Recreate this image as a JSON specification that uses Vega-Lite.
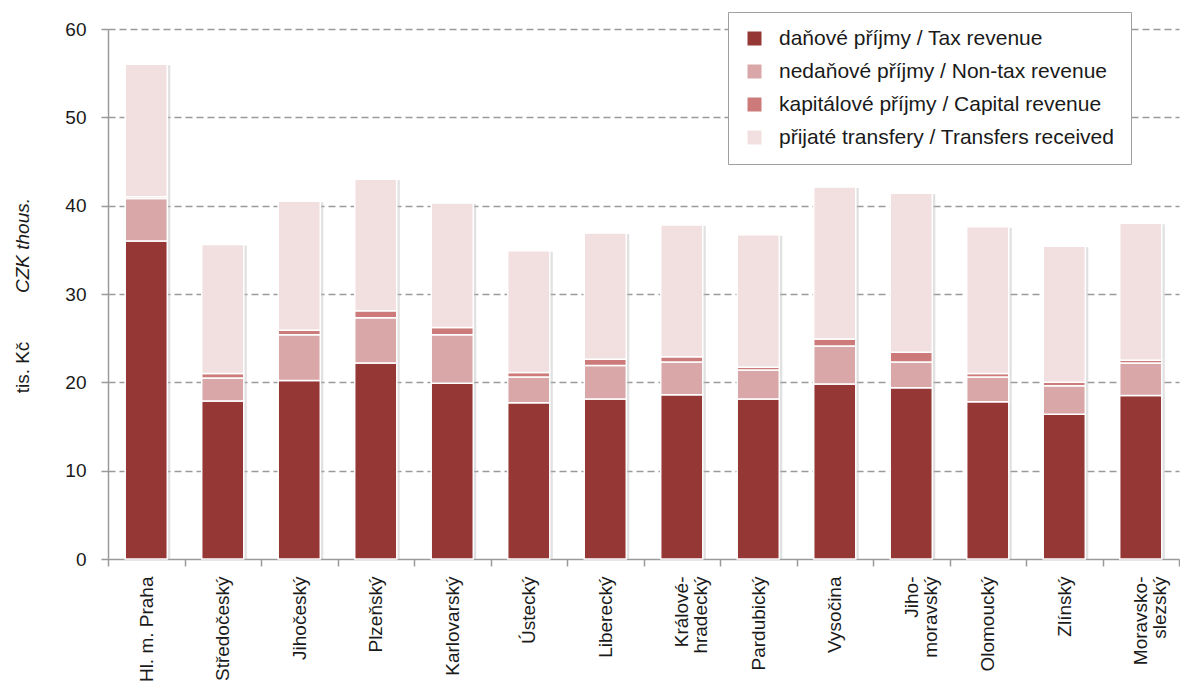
{
  "$schema": "https://vega.github.io/schema/vega-lite/v6.json",
  "autosize": {"type": "none"},
  "padding": {"left": 108, "top": 29, "right": 1, "bottom": 136},
  "width": 1071,
  "height": 530,
  "background": "white",
  "config": {
    "font": "Liberation Sans",
    "view": {"stroke": null},
    "axis": {"labelFont": "Liberation Sans", "titleFont": "Liberation Sans", "labelColor": "#1a1a1a", "titleColor": "#1a1a1a"}
  },
  "data": {
    "values": [
      {"r": "Hl. m. Praha", "t": "daňové příjmy / Tax revenue", "o": 1, "v": 36.0},
      {"r": "Hl. m. Praha", "t": "nedaňové příjmy / Non-tax revenue", "o": 2, "v": 4.8},
      {"r": "Hl. m. Praha", "t": "kapitálové příjmy / Capital revenue", "o": 3, "v": 0.2},
      {"r": "Hl. m. Praha", "t": "přijaté transfery / Transfers received", "o": 4, "v": 15.0},
      {"r": "Středočeský", "t": "daňové příjmy / Tax revenue", "o": 1, "v": 17.9},
      {"r": "Středočeský", "t": "nedaňové příjmy / Non-tax revenue", "o": 2, "v": 2.6},
      {"r": "Středočeský", "t": "kapitálové příjmy / Capital revenue", "o": 3, "v": 0.5},
      {"r": "Středočeský", "t": "přijaté transfery / Transfers received", "o": 4, "v": 14.6},
      {"r": "Jihočeský", "t": "daňové příjmy / Tax revenue", "o": 1, "v": 20.2},
      {"r": "Jihočeský", "t": "nedaňové příjmy / Non-tax revenue", "o": 2, "v": 5.2},
      {"r": "Jihočeský", "t": "kapitálové příjmy / Capital revenue", "o": 3, "v": 0.5},
      {"r": "Jihočeský", "t": "přijaté transfery / Transfers received", "o": 4, "v": 14.6},
      {"r": "Plzeňský", "t": "daňové příjmy / Tax revenue", "o": 1, "v": 22.2},
      {"r": "Plzeňský", "t": "nedaňové příjmy / Non-tax revenue", "o": 2, "v": 5.1},
      {"r": "Plzeňský", "t": "kapitálové příjmy / Capital revenue", "o": 3, "v": 0.8},
      {"r": "Plzeňský", "t": "přijaté transfery / Transfers received", "o": 4, "v": 14.9},
      {"r": "Karlovarský", "t": "daňové příjmy / Tax revenue", "o": 1, "v": 19.9},
      {"r": "Karlovarský", "t": "nedaňové příjmy / Non-tax revenue", "o": 2, "v": 5.5},
      {"r": "Karlovarský", "t": "kapitálové příjmy / Capital revenue", "o": 3, "v": 0.8},
      {"r": "Karlovarský", "t": "přijaté transfery / Transfers received", "o": 4, "v": 14.1},
      {"r": "Ústecký", "t": "daňové příjmy / Tax revenue", "o": 1, "v": 17.7},
      {"r": "Ústecký", "t": "nedaňové příjmy / Non-tax revenue", "o": 2, "v": 2.9},
      {"r": "Ústecký", "t": "kapitálové příjmy / Capital revenue", "o": 3, "v": 0.5},
      {"r": "Ústecký", "t": "přijaté transfery / Transfers received", "o": 4, "v": 13.8},
      {"r": "Liberecký", "t": "daňové příjmy / Tax revenue", "o": 1, "v": 18.1},
      {"r": "Liberecký", "t": "nedaňové příjmy / Non-tax revenue", "o": 2, "v": 3.8},
      {"r": "Liberecký", "t": "kapitálové příjmy / Capital revenue", "o": 3, "v": 0.7},
      {"r": "Liberecký", "t": "přijaté transfery / Transfers received", "o": 4, "v": 14.3},
      {"r": "Králové-|hradecký", "t": "daňové příjmy / Tax revenue", "o": 1, "v": 18.6},
      {"r": "Králové-|hradecký", "t": "nedaňové příjmy / Non-tax revenue", "o": 2, "v": 3.7},
      {"r": "Králové-|hradecký", "t": "kapitálové příjmy / Capital revenue", "o": 3, "v": 0.6},
      {"r": "Králové-|hradecký", "t": "přijaté transfery / Transfers received", "o": 4, "v": 14.9},
      {"r": "Pardubický", "t": "daňové příjmy / Tax revenue", "o": 1, "v": 18.1},
      {"r": "Pardubický", "t": "nedaňové příjmy / Non-tax revenue", "o": 2, "v": 3.3},
      {"r": "Pardubický", "t": "kapitálové příjmy / Capital revenue", "o": 3, "v": 0.3},
      {"r": "Pardubický", "t": "přijaté transfery / Transfers received", "o": 4, "v": 15.0},
      {"r": "Vysočina", "t": "daňové příjmy / Tax revenue", "o": 1, "v": 19.8},
      {"r": "Vysočina", "t": "nedaňové příjmy / Non-tax revenue", "o": 2, "v": 4.3},
      {"r": "Vysočina", "t": "kapitálové příjmy / Capital revenue", "o": 3, "v": 0.8},
      {"r": "Vysočina", "t": "přijaté transfery / Transfers received", "o": 4, "v": 17.2},
      {"r": "Jiho-|moravský", "t": "daňové příjmy / Tax revenue", "o": 1, "v": 19.4},
      {"r": "Jiho-|moravský", "t": "nedaňové příjmy / Non-tax revenue", "o": 2, "v": 2.9},
      {"r": "Jiho-|moravský", "t": "kapitálové příjmy / Capital revenue", "o": 3, "v": 1.1},
      {"r": "Jiho-|moravský", "t": "přijaté transfery / Transfers received", "o": 4, "v": 18.0},
      {"r": "Olomoucký", "t": "daňové příjmy / Tax revenue", "o": 1, "v": 17.8},
      {"r": "Olomoucký", "t": "nedaňové příjmy / Non-tax revenue", "o": 2, "v": 2.8},
      {"r": "Olomoucký", "t": "kapitálové příjmy / Capital revenue", "o": 3, "v": 0.4},
      {"r": "Olomoucký", "t": "přijaté transfery / Transfers received", "o": 4, "v": 16.6},
      {"r": "Zlínský", "t": "daňové příjmy / Tax revenue", "o": 1, "v": 16.4},
      {"r": "Zlínský", "t": "nedaňové příjmy / Non-tax revenue", "o": 2, "v": 3.2},
      {"r": "Zlínský", "t": "kapitálové příjmy / Capital revenue", "o": 3, "v": 0.4},
      {"r": "Zlínský", "t": "přijaté transfery / Transfers received", "o": 4, "v": 15.4},
      {"r": "Moravsko-|slezský", "t": "daňové příjmy / Tax revenue", "o": 1, "v": 18.5},
      {"r": "Moravsko-|slezský", "t": "nedaňové příjmy / Non-tax revenue", "o": 2, "v": 3.7},
      {"r": "Moravsko-|slezský", "t": "kapitálové příjmy / Capital revenue", "o": 3, "v": 0.3},
      {"r": "Moravsko-|slezský", "t": "přijaté transfery / Transfers received", "o": 4, "v": 15.5}
    ]
  },
  "encoding": {
    "x": {
      "field": "r", "type": "nominal",
      "sort": ["Hl. m. Praha", "Středočeský", "Jihočeský", "Plzeňský", "Karlovarský", "Ústecký", "Liberecký", "Králové-|hradecký", "Pardubický", "Vysočina", "Jiho-|moravský", "Olomoucký", "Zlínský", "Moravsko-|slezský"],
      "scale": {"paddingInner": 0, "paddingOuter": 0},
      "axis": {
        "title": null,
        "labelAngle": -90,
        "labelAlign": "right",
        "labelBaseline": "middle",
        "labelFontSize": 19,
        "labelLineHeight": 19,
        "labelPadding": 10,
        "labelExpr": "split(datum.label, '|')",
        "tickBand": "extent",
        "tickSize": 7,
        "tickColor": "#9a9a9a",
        "tickWidth": 1.5,
        "domainColor": "#9a9a9a",
        "domainWidth": 1.5,
        "grid": false
      }
    }
  },
  "layer": [
    {
      "mark": {"type": "bar", "width": {"band": 0.55}, "color": "#bcbcbc", "opacity": 0.45, "xOffset": 3, "yOffset": 1},
      "encoding": {
        "y": {
          "aggregate": "sum", "field": "v", "type": "quantitative",
          "scale": {"domain": [0, 60], "nice": false},
          "axis": null
        }
      }
    },
    {
      "mark": {"type": "bar", "width": {"band": 0.55}, "stroke": "white", "strokeWidth": 1.5},
      "encoding": {
        "y": {
          "field": "v", "type": "quantitative", "stack": "zero",
          "scale": {"domain": [0, 60], "nice": false},
          "axis": {
            "values": [0, 10, 20, 30, 40, 50, 60],
            "title": "tis. Kč",
            "titleFontSize": 19,
            "titleFontWeight": "normal",
            "titleAngle": -90,
            "titleAlign": "center",
            "titleBaseline": "middle",
            "titleX": -86,
            "titleY": 338,
            "labelFontSize": 19,
            "labelPadding": 15,
            "tickSize": 7,
            "tickColor": "#9a9a9a",
            "tickWidth": 1.5,
            "domainColor": "#9a9a9a",
            "domainWidth": 1.5,
            "grid": true,
            "gridColor": "#9a9a9a",
            "gridWidth": 1.5,
            "gridDash": [7, 4],
            "gridOpacity": {"condition": {"test": "datum.value === 0", "value": 0}, "value": 1}
          }
        },
        "color": {
          "field": "t", "type": "nominal",
          "scale": {
            "domain": ["daňové příjmy / Tax revenue", "nedaňové příjmy / Non-tax revenue", "kapitálové příjmy / Capital revenue", "přijaté transfery / Transfers received"],
            "range": ["#953735", "#d9a7a7", "#cc7a7a", "#f2e0e1"]
          },
          "legend": {
            "title": null,
            "orient": "none",
            "legendX": 620,
            "legendY": -17,
            "strokeColor": "#a0a0a0",
            "fillColor": "white",
            "padding": 16,
            "symbolType": "square",
            "symbolSize": 196,
            "symbolStrokeWidth": 0,
            "labelFontSize": 21,
            "labelColor": "#1a1a1a",
            "labelOffset": 14,
            "labelLimit": 500,
            "rowPadding": 11
          }
        },
        "order": {"field": "o", "type": "quantitative"}
      }
    },
    {
      "mark": {"type": "rule", "strokeOpacity": 0},
      "encoding": {
        "x": {"value": 0},
        "y": {
          "datum": 0, "type": "quantitative",
          "scale": {"domain": [0, 60], "nice": false},
          "axis": {
            "orient": "left",
            "title": "CZK thous.",
            "titleFontSize": 19,
            "titleFontWeight": "normal",
            "titleFontStyle": "italic",
            "titleAngle": -90,
            "titleAlign": "center",
            "titleBaseline": "middle",
            "titleX": -86,
            "titleY": 216,
            "labels": false,
            "ticks": false,
            "domain": false,
            "grid": false
          }
        }
      }
    }
  ],
  "resolve": {"scale": {"y": "independent"}, "axis": {"y": "independent"}}
}
